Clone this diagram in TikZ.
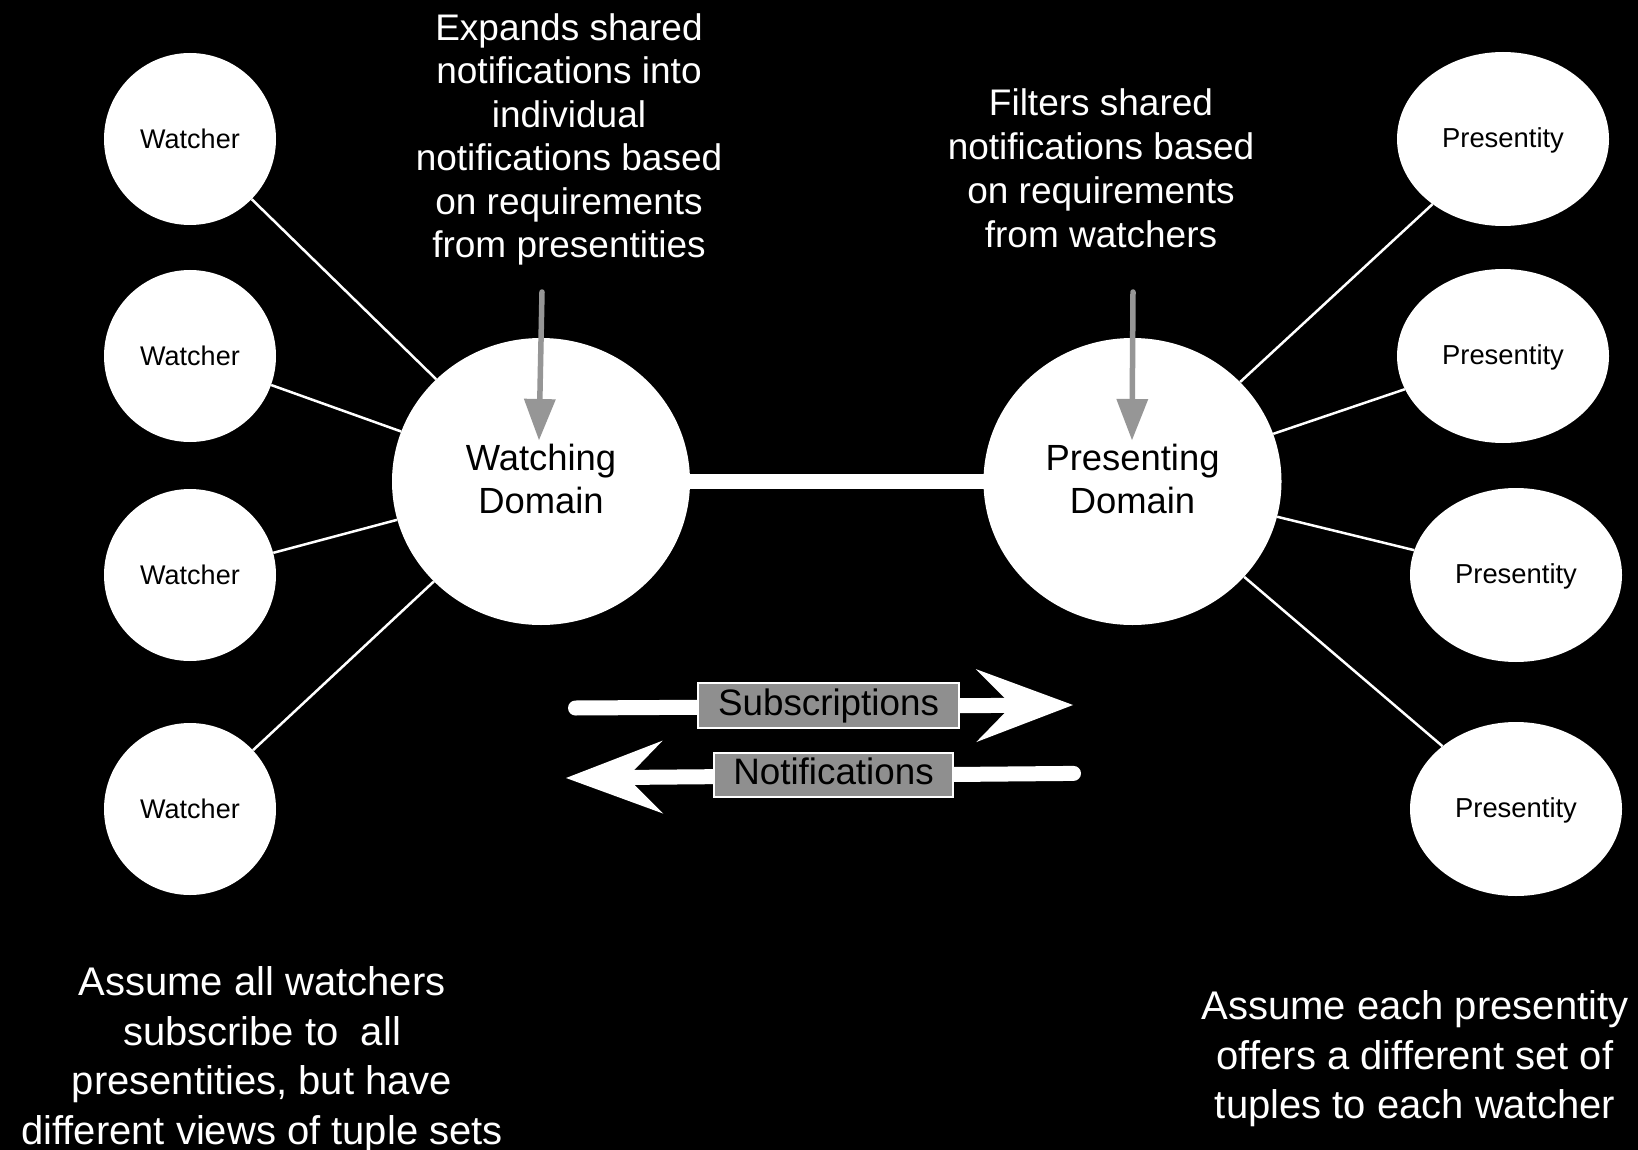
\documentclass[tikz,border=0pt]{standalone}
\usepackage{fontspec}
\setmainfont{Liberation Sans}
\usetikzlibrary{arrows.meta,shapes.geometric}
\definecolor{arrowgray}{RGB}{150,150,150}
\definecolor{boxgray}{RGB}{143,143,143}
\pgfdeclarelayer{bg}
\pgfdeclarelayer{links}
\pgfsetlayers{bg,links,main}
\begin{document}
\begin{tikzpicture}[x=1pt,y=-1pt,
  leaf/.style={circle, fill=white, inner sep=0pt, minimum size=172pt, font=\fontsize{27}{32}\selectfont, text=black},
  pres/.style={ellipse, fill=white, inner sep=0pt, minimum width=212pt, minimum height=174pt, text height=23.6pt, text depth=5.7pt, font=\fontsize{27.4}{32}\selectfont, text=black},
  domainbox/.style={ellipse, fill=white, inner sep=0pt, minimum width=298pt, minimum height=287pt, align=center, font=\fontsize{36.4}{43}\selectfont, text=black},
  thinlink/.style={draw=white, line width=2.5pt},
  note/.style={text=white, align=center, anchor=north, inner sep=0pt},
  hint/.style={draw=arrowgray, line width=5.5pt, line cap=round, -{Triangle[length=41pt,width=32pt,line width=0pt]}},
  flow/.style={draw=white, line width=15pt, line cap=round, -{Stealth[length=97pt,width=73pt,inset=36pt,line width=0pt]}},
  flowlabel/.style={fill=boxgray, draw=white, line width=2.5pt, inner sep=0pt, minimum width=261pt, minimum height=45pt, text height=27pt, text depth=8pt, font=\fontsize{36.8}{44}\selectfont, text=black}
]
\begin{pgfonlayer}{bg}
\fill[black] (0,0) rectangle (1638,1150);
\end{pgfonlayer}
\useasboundingbox (0,0) rectangle (1638,1150);

% leaf nodes
\node[leaf] (w1) at (190,139) {Watcher};
\node[leaf] (w2) at (190,356) {Watcher};
\node[leaf] (w3) at (190,575) {Watcher};
\node[leaf] (w4) at (190,809) {Watcher};
\node[pres] (p1) at (1503,139) {Presentity};
\node[pres] (p2) at (1503,356) {Presentity};
\node[pres] (p3) at (1516,575) {Presentity};
\node[pres] (p4) at (1516,809) {Presentity};

% domains
\node[domainbox] (wd) at (541,481.5) {Watching\\Domain\rule[-6pt]{0pt}{6pt}};
\node[domainbox] (pd) at (1132.5,481.5) {Presenting\\Domain\rule[-6pt]{0pt}{6pt}};

% links
\begin{pgfonlayer}{links}
\foreach \w in {w1,w2,w3,w4} \draw[thinlink] (\w) -- (wd);
\foreach \p in {p1,p2,p3,p4} \draw[thinlink] (\p) -- (pd);
\draw[draw=white, line width=15pt] (wd.center) -- (pd.center);
\end{pgfonlayer}

% notes
\node[note, font=\fontsize{37}{43.4}\selectfont] (tl) at (569,13.5)
  {Expands shared\\notifications into\\individual\\notifications based\\on requirements\\from presentities};
\node[note, font=\fontsize{37}{44}\selectfont] (tr) at (1101,88.5)
  {Filters shared\\notifications based\\on requirements\\from watchers};
\node[note, font=\fontsize{40}{49.5}\selectfont] (bl) at (262,966.4)
  {Assume all watchers\\subscribe to\ \ all\\presentities, but have\\different views of tuple sets};
\node[note, font=\fontsize{40}{49.5}\selectfont] (br) at (1415,990.4)
  {Assume each presentity\\offers a different set of\\tuples to each watcher};

% gray hint arrows
\coordinate (h1s) at (542,292);
\coordinate (h1e) at (539,440);
\coordinate (h2s) at (1133,292);
\coordinate (h2e) at (1132,440);
\draw[hint] (h1s) -- (h1e);
\draw[hint] (h2s) -- (h2e);

% flow arrows
\coordinate (s1) at (575.5,708);
\coordinate (s2) at (1073,705);
\coordinate (n1) at (1073.5,773.4);
\coordinate (n2) at (566,778);
\draw[flow] (s1) -- (s2);
\draw[flow] (n1) -- (n2);
\node[flowlabel] (subl) at (828.5,705.5) {Subscriptions};
\node[flowlabel, minimum width=239pt, minimum height=44pt] (notl) at (833.5,775) {Notifications};
\end{tikzpicture}
\end{document}
